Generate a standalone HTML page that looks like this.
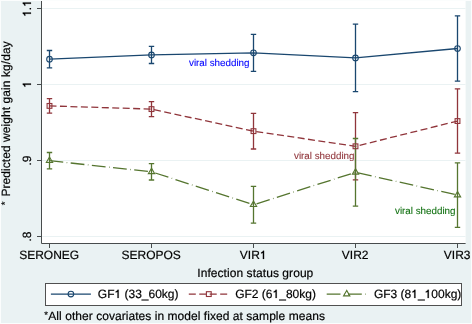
<!DOCTYPE html>
<html><head><meta charset="utf-8"><style>
html,body{margin:0;padding:0;background:#eaf2f3;}
svg{display:block;font-family:"Liberation Sans", sans-serif;will-change:transform;text-rendering:geometricPrecision;}
text{fill:currentColor;stroke:currentColor;stroke-width:0.18px;color:#000;}
.ann{stroke-width:0.1px;}
.h{fill:none;stroke:none;}
</style></head><body>
<svg width="472" height="324" viewBox="0 0 472 324">
<rect width="472" height="324" fill="#eaf2f3"/>
<rect x="41" y="0" width="424.6" height="243" fill="#fff"/>
<path d="M42 8.5H465.5" stroke="#eaf2f3" stroke-width="1"/>
<path d="M42 84.5H465.5" stroke="#eaf2f3" stroke-width="1"/>
<path d="M42 160.5H465.5" stroke="#eaf2f3" stroke-width="1"/>
<path d="M42 236.5H465.5" stroke="#eaf2f3" stroke-width="1"/>
<path d="M49.5 50.5V67.8M46.8 50.5H52.2M46.8 67.8H52.2" stroke="#1a476f" stroke-width="1.3" fill="none"/>
<path d="M151.5 46.4V63.5M148.8 46.4H154.2M148.8 63.5H154.2" stroke="#1a476f" stroke-width="1.3" fill="none"/>
<path d="M253.5 34.3V71.4M250.8 34.3H256.2M250.8 71.4H256.2" stroke="#1a476f" stroke-width="1.3" fill="none"/>
<path d="M355.5 24.2V91.7M352.8 24.2H358.2M352.8 91.7H358.2" stroke="#1a476f" stroke-width="1.3" fill="none"/>
<path d="M457.5 15.9V81.1M454.8 15.9H460.2M454.8 81.1H460.2" stroke="#1a476f" stroke-width="1.3" fill="none"/>
<path d="M49.5 98.6V113.2M46.8 98.6H52.2M46.8 113.2H52.2" stroke="#90353b" stroke-width="1.3" fill="none"/>
<path d="M151.5 101.6V116.6M148.8 101.6H154.2M148.8 116.6H154.2" stroke="#90353b" stroke-width="1.3" fill="none"/>
<path d="M253.5 113.3V149.0M250.8 113.3H256.2M250.8 149.0H256.2" stroke="#90353b" stroke-width="1.3" fill="none"/>
<path d="M355.5 112.7V179.9M352.8 112.7H358.2M352.8 179.9H358.2" stroke="#90353b" stroke-width="1.3" fill="none"/>
<path d="M457.5 88.9V153.2M454.8 88.9H460.2M454.8 153.2H460.2" stroke="#90353b" stroke-width="1.3" fill="none"/>
<path d="M49.5 152.5V168.9M46.8 152.5H52.2M46.8 168.9H52.2" stroke="#55752f" stroke-width="1.3" fill="none"/>
<path d="M151.5 163.6V180.0M148.8 163.6H154.2M148.8 180.0H154.2" stroke="#55752f" stroke-width="1.3" fill="none"/>
<path d="M253.5 186.3V223.2M250.8 186.3H256.2M250.8 223.2H256.2" stroke="#55752f" stroke-width="1.3" fill="none"/>
<path d="M355.5 138.5V206.2M352.8 138.5H358.2M352.8 206.2H358.2" stroke="#55752f" stroke-width="1.3" fill="none"/>
<path d="M457.5 162.9V227.3M454.8 162.9H460.2M454.8 227.3H460.2" stroke="#55752f" stroke-width="1.3" fill="none"/>
<polyline points="49.5,59.15 151.5,54.95 253.5,52.85 355.5,57.95 457.5,48.50" stroke="#1a476f" stroke-width="1.3" fill="none"/>
<polyline points="49.5,105.90 151.5,109.10 253.5,131.15 355.5,146.30 457.5,121.05" stroke="#90353b" stroke-width="1.3" fill="none" stroke-dasharray="7 3.46"/>
<polyline points="49.5,160.70 151.5,171.80 253.5,204.75 355.5,172.35 457.5,195.10" stroke="#55752f" stroke-width="1.3" fill="none" stroke-dasharray="13.8 3.45 0.6 3.45"/>
<circle cx="49.5" cy="59.15" r="2.8" stroke="#1a476f" stroke-width="1.1" fill="none"/>
<circle cx="151.5" cy="54.95" r="2.8" stroke="#1a476f" stroke-width="1.1" fill="none"/>
<circle cx="253.5" cy="52.85" r="2.8" stroke="#1a476f" stroke-width="1.1" fill="none"/>
<circle cx="355.5" cy="57.95" r="2.8" stroke="#1a476f" stroke-width="1.1" fill="none"/>
<circle cx="457.5" cy="48.50" r="2.8" stroke="#1a476f" stroke-width="1.1" fill="none"/>
<rect x="47.10" y="103.50" width="4.8" height="4.8" stroke="#90353b" stroke-width="1.1" fill="none"/>
<rect x="149.10" y="106.70" width="4.8" height="4.8" stroke="#90353b" stroke-width="1.1" fill="none"/>
<rect x="251.10" y="128.75" width="4.8" height="4.8" stroke="#90353b" stroke-width="1.1" fill="none"/>
<rect x="353.10" y="143.90" width="4.8" height="4.8" stroke="#90353b" stroke-width="1.1" fill="none"/>
<rect x="455.10" y="118.65" width="4.8" height="4.8" stroke="#90353b" stroke-width="1.1" fill="none"/>
<path d="M49.50 157.06L46.35 162.52L52.65 162.52Z" stroke="#55752f" stroke-width="1.1" fill="none"/>
<path d="M151.50 168.16L148.35 173.62L154.65 173.62Z" stroke="#55752f" stroke-width="1.1" fill="none"/>
<path d="M253.50 201.11L250.35 206.57L256.65 206.57Z" stroke="#55752f" stroke-width="1.1" fill="none"/>
<path d="M355.50 168.71L352.35 174.17L358.65 174.17Z" stroke="#55752f" stroke-width="1.1" fill="none"/>
<path d="M457.50 191.46L454.35 196.92L460.65 196.92Z" stroke="#55752f" stroke-width="1.1" fill="none"/>
<path d="M41.5 1V243.5H465.6" stroke="#484c4d" stroke-width="1" fill="none"/>
<path d="M37 8.5H41" stroke="#484c4d" stroke-width="1"/>
<path d="M37 84.5H41" stroke="#484c4d" stroke-width="1"/>
<path d="M37 160.5H41" stroke="#484c4d" stroke-width="1"/>
<path d="M37 236.5H41" stroke="#484c4d" stroke-width="1"/>
<path d="M49.5 243.5V248" stroke="#484c4d" stroke-width="1"/>
<path d="M151.5 243.5V248" stroke="#484c4d" stroke-width="1"/>
<path d="M253.5 243.5V248" stroke="#484c4d" stroke-width="1"/>
<path d="M355.5 243.5V248" stroke="#484c4d" stroke-width="1"/>
<path d="M457.5 243.5V248" stroke="#484c4d" stroke-width="1"/>
<rect x="45.5" y="283.5" width="416" height="22" fill="#fff" stroke="#505050" stroke-width="1"/>
<path d="M50.9 294.1H90.9" stroke="#1a476f" stroke-width="1.3"/>
<circle cx="70.9" cy="294.10" r="2.8" stroke="#1a476f" stroke-width="1.1" fill="none"/>
<path d="M188.8 294.1H228.8" stroke="#90353b" stroke-width="1.3" stroke-dasharray="7 3.46"/>
<rect x="206.40" y="291.70" width="4.8" height="4.8" stroke="#90353b" stroke-width="1.1" fill="none"/>
<path d="M326.7 294.1H366.7" stroke="#55752f" stroke-width="1.3" stroke-dasharray="13.8 3.45 0.6 3.45"/>
<path d="M346.70 290.46L343.55 295.92L349.85 295.92Z" stroke="#55752f" stroke-width="1.1" fill="none"/>
<g transform="translate(31 8.5) rotate(-90)"><text id="yla" x="0" y="0" font-size="12" text-anchor="middle"><tspan class="h">1</tspan>.<tspan class="h">1</tspan></text><path d="M515 0V1010C420 975 300 960 197 955V1110C340 1130 470 1230 530 1409H720V0Z" transform="translate(-8.34 0.00) scale(0.005859 -0.005859)" fill="#000" stroke="#000" stroke-width="30.7"/><path d="M515 0V1010C420 975 300 960 197 955V1110C340 1130 470 1230 530 1409H720V0Z" transform="translate(1.66 0.00) scale(0.005859 -0.005859)" fill="#000" stroke="#000" stroke-width="30.7"/></g>
<g transform="translate(31 84.5) rotate(-90)"><text id="ylb" x="0" y="0" font-size="12" text-anchor="middle"><tspan class="h">1</tspan></text><path d="M515 0V1010C420 975 300 960 197 955V1110C340 1130 470 1230 530 1409H720V0Z" transform="translate(-3.34 0.00) scale(0.005859 -0.005859)" fill="#000" stroke="#000" stroke-width="30.7"/></g>
<g transform="translate(31 160.5) rotate(-90)"><text id="ylc" x="0" y="0" font-size="12" text-anchor="middle">.9</text></g>
<g transform="translate(31 236.5) rotate(-90)"><text id="yld" x="0" y="0" font-size="12" text-anchor="middle">.8</text></g>
<text id="xla" x="49.2" y="259" font-size="12" text-anchor="middle">SERONEG</text>
<text id="xlb" x="151.2" y="259" font-size="12" text-anchor="middle">SEROPOS</text>
<text id="xlc" x="253.2" y="259" font-size="12" text-anchor="middle">VIR<tspan class="h">1</tspan></text><path d="M515 0V1010C420 975 300 960 197 955V1110C340 1130 470 1230 530 1409H720V0Z" transform="translate(259.86 259.00) scale(0.005859 -0.005859)" fill="#000" stroke="#000" stroke-width="30.7"/>
<text id="xld" x="355.2" y="259" font-size="12" text-anchor="middle">VIR2</text>
<text id="xle" x="457.2" y="259" font-size="12" text-anchor="middle">VIR3</text>
<text id="xt" x="255.3" y="277" font-size="12" text-anchor="middle" textLength="116" lengthAdjust="spacing">Infection status group</text>
<g transform="translate(9.6 196.6) rotate(-90)"><text id="yt" x="0" y="0" font-size="12" textLength="155.3" lengthAdjust="spacing">Predicted weight gain kg/day</text></g>
<g transform="translate(7.9 205.2) rotate(-90)"><text id="ytast" x="0" y="0" font-size="9.5">*</text></g>
<text id="a1" x="189" y="66" font-size="9.8" class="ann" style="color:#0000ff">viral shedding</text>
<text id="a2" x="294" y="159" font-size="9.8" class="ann" style="color:#90353b">viral shedding</text>
<text id="a3" x="395" y="214" font-size="9.8" class="ann" style="color:#107010">viral shedding</text>
<text id="g1" x="97.8" y="298" font-size="12">GF<tspan class="h">1</tspan> (33_60kg)</text><path d="M515 0V1010C420 975 300 960 197 955V1110C340 1130 470 1230 530 1409H720V0Z" transform="translate(114.46 298.00) scale(0.005859 -0.005859)" fill="#000" stroke="#000" stroke-width="30.7"/>
<text id="g2" x="235.2" y="298" font-size="12">GF2 (6<tspan class="h">1</tspan>_80kg)</text><path d="M515 0V1010C420 975 300 960 197 955V1110C340 1130 470 1230 530 1409H720V0Z" transform="translate(272.53 298.00) scale(0.005859 -0.005859)" fill="#000" stroke="#000" stroke-width="30.7"/>
<text id="g3" x="373.9" y="298" font-size="12">GF3 (8<tspan class="h">1</tspan>_<tspan class="h">1</tspan>00kg)</text><path d="M515 0V1010C420 975 300 960 197 955V1110C340 1130 470 1230 530 1409H720V0Z" transform="translate(411.23 298.00) scale(0.005859 -0.005859)" fill="#000" stroke="#000" stroke-width="30.7"/><path d="M515 0V1010C420 975 300 960 197 955V1110C340 1130 470 1230 530 1409H720V0Z" transform="translate(424.59 298.00) scale(0.005859 -0.005859)" fill="#000" stroke="#000" stroke-width="30.7"/>
<text id="fa" x="44.2" y="318.3" font-size="9.5">*</text>
<text id="ft" x="48.3" y="320" font-size="12" textLength="276.6" lengthAdjust="spacing">All other covariates in model fixed at sample means</text>
<rect x="0.5" y="0.5" width="471" height="323" fill="none" stroke="#fbfdfd" stroke-width="1"/>
</svg>
</body></html>
